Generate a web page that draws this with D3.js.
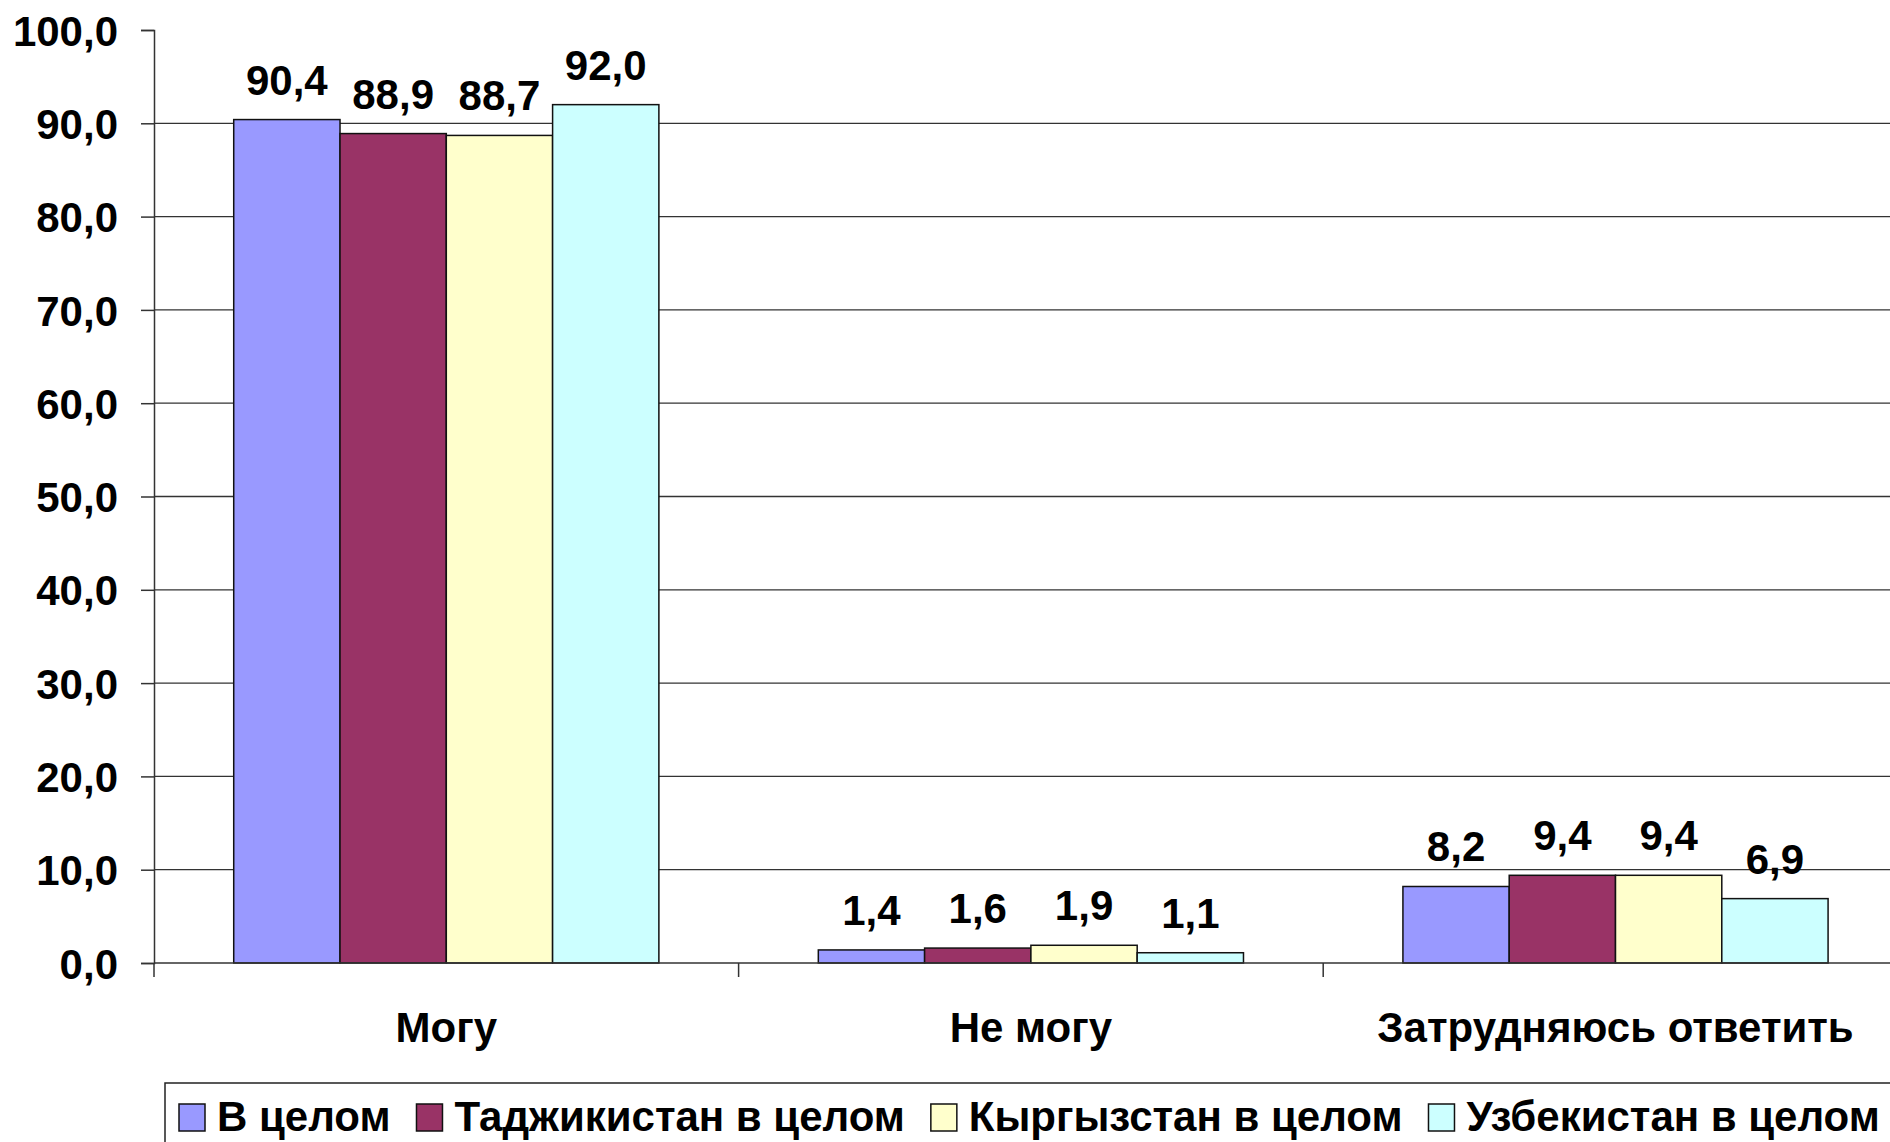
<!DOCTYPE html>
<html>
<head>
<meta charset="utf-8">
<script src="https://cdn.jsdelivr.net/npm/d3@7"></script>
<style>
  body { margin: 0; background: #fff; }
  svg text { font-family: Arial, "Liberation Sans", sans-serif; font-weight: bold; fill: #000; }
</style>
</head>
<body>
<svg width="1890" height="1142"></svg>
<script>
var categories = ["Могу", "Не могу", "Затрудняюсь ответить"];
var seriesNames = ["В целом", "Таджикистан в целом", "Кыргызстан в целом", "Узбекистан в целом"];
var seriesColors = ["#9999FF", "#993366", "#FFFFCC", "#CCFFFF"];
var values = [
    [90.4, 88.9, 88.7, 92.0],   // Могу
    [1.4, 1.6, 1.9, 1.1],       // Не могу
    [8.2, 9.4, 9.4, 6.9]        // Затрудняюсь ответить
];
var yTicks = [0, 10, 20, 30, 40, 50, 60, 70, 80, 90, 100];

var fmt = function(v) { return v.toFixed(1).replace(".", ","); };
var fontSize = "42px";

var svg = d3.select("svg");
var plotLeft = 154, plotTop = 30, plotBottom = 963;
var bandW = 584.6;

var x = d3.scaleBand()
    .domain(categories)
    .range([plotLeft, plotLeft + bandW * categories.length]);

// 4 bars + gap of 150% of a bar
var barW = x.bandwidth() / 5.5;
var barX = function(i) { return 0.75 * barW + i * barW; };

var y = d3.scaleLinear().domain([0, 100]).range([plotBottom, plotTop]);

// gridlines
svg.append("g")
    .selectAll("line")
    .data(yTicks.filter(function(d) { return d > 0 && d < 100; }))
    .enter().append("line")
    .attr("x1", plotLeft).attr("x2", 1890)
    .attr("y1", function(d) { return y(d); })
    .attr("y2", function(d) { return y(d); })
    .attr("stroke", "#333")
    .attr("stroke-width", 1.3);

// y axis
var yAxis = svg.append("g")
    .attr("transform", "translate(" + plotLeft + ",0)")
    .call(d3.axisLeft(y).tickValues(yTicks).tickSize(13).tickFormat(fmt));
yAxis.select(".domain").attr("stroke", "#333").attr("stroke-width", 1.5);
yAxis.selectAll(".tick line").attr("stroke", "#333").attr("stroke-width", 1.5);
yAxis.selectAll(".tick text")
    .attr("x", -36)
    .attr("dy", "0.36em")
    .style("font-size", fontSize)
    .style("font-family", "Arial, 'Liberation Sans', sans-serif")
    .style("font-weight", "bold");

// bars
var groups = svg.append("g")
    .selectAll("g")
    .data(values)
    .enter().append("g")
    .attr("transform", function(d, i) { return "translate(" + x(categories[i]) + ",0)"; });

groups.selectAll("rect")
    .data(function(d) { return d; })
    .enter().append("rect")
    .attr("x", function(d, i) { return barX(i); })
    .attr("y", function(d) { return y(d); })
    .attr("width", barW)
    .attr("height", function(d) { return plotBottom - y(d); })
    .attr("fill", function(d, i) { return seriesColors[i]; })
    .attr("stroke", "#111")
    .attr("stroke-width", 1.5);

groups.selectAll("text")
    .data(function(d) { return d; })
    .enter().append("text")
    .attr("x", function(d, i) { return barX(i) + barW / 2; })
    .attr("y", function(d) { return y(d) - 25; })
    .attr("text-anchor", "middle")
    .style("font-size", fontSize)
    .text(fmt);

// x axis
var xAxis = svg.append("g")
    .attr("transform", "translate(0," + plotBottom + ")");
xAxis.append("line")
    .attr("x1", plotLeft).attr("x2", 1890)
    .attr("stroke", "#333").attr("stroke-width", 1.5);
xAxis.selectAll("line.tk")
    .data(categories)
    .enter().append("line")
    .attr("class", "tk")
    .attr("x1", function(d) { return x(d); })
    .attr("x2", function(d) { return x(d); })
    .attr("y1", 0).attr("y2", 14)
    .attr("stroke", "#333").attr("stroke-width", 1.5);
xAxis.selectAll("text")
    .data(categories)
    .enter().append("text")
    .attr("x", function(d) { return x(d) + x.bandwidth() / 2; })
    .attr("y", 79)
    .attr("text-anchor", "middle")
    .style("font-size", fontSize)
    .text(function(d) { return d; });

// legend
var legend = svg.append("g").attr("transform", "translate(165,1083)");
legend.append("rect")
    .attr("x", 0).attr("y", 0)
    .attr("width", 1800).attr("height", 120)
    .attr("fill", "#fff")
    .attr("stroke", "#222").attr("stroke-width", 1.5);

var lx = 14;
seriesNames.forEach(function(name, i) {
    legend.append("rect")
        .attr("x", lx).attr("y", 21)
        .attr("width", 26).attr("height", 27)
        .attr("fill", seriesColors[i])
        .attr("stroke", "#111").attr("stroke-width", 1.5);
    var t = legend.append("text")
        .attr("x", lx + 38).attr("y", 48)
        .style("font-size", fontSize)
        .text(name);
    lx += 38 + t.node().getComputedTextLength() + 26;
});
</script>
</body>
</html>
